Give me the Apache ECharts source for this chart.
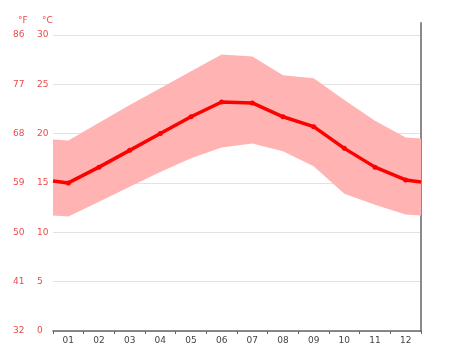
<!DOCTYPE html>
<html>
<head>
<meta charset="utf-8">
<script src="https://cdn.jsdelivr.net/npm/echarts@6/dist/echarts.min.js"></script>
<style>
html,body{margin:0;padding:0;background:#fff;}
#chart{width:474px;height:355px;}
</style>
</head>
<body>
<div id="chart"></div>
<script>
// Month labels
const months = ['01','02','03','04','05','06','07','08','09','10','11','12'];
// Average temperature (°C)
const tMean = [15.0, 16.6, 18.3, 20.0, 21.7, 23.2, 23.1, 21.7, 20.7, 18.5, 16.6, 15.3];
// Minimum temperature (°C)
const tMin = [11.6, 13.1, 14.6, 16.1, 17.5, 18.6, 19.0, 18.2, 16.7, 13.9, 12.8, 11.8];
// Maximum temperature (°C)
const tMax = [19.3, 21.1, 22.9, 24.6, 26.3, 28.0, 27.8, 25.9, 25.6, 23.4, 21.3, 19.6];
// Values at the left / right plot edges
const edgeMean = [15.2, 15.1];
const edgeMin = [11.7, 11.7];
const edgeMax = [19.4, 19.5];
// Tick values (°C)
const yMin = 0, yMax = 31.2, yStep = 5;

function withEdges(vals, edges) {
  const out = [[0, edges[0]]];
  vals.forEach((v, i) => out.push([i + 0.5, v]));
  out.push([months.length, edges[1]]);
  return out;
}
const lowData = withEdges(tMin, edgeMin);
const highData = withEdges(tMax, edgeMax);
const meanPairs = withEdges(tMean, edgeMean);
const meanData = meanPairs.map((p, i) => {
  const isEdge = i === 0 || i === meanPairs.length - 1;
  return isEdge ? { value: p, symbol: 'none' } : { value: p };
});

const labelColor = '#ea4a4a';
const font = 'DejaVu Sans';
const chart = echarts.init(document.getElementById('chart'), null, { renderer: 'canvas' });
chart.setOption({
  animation: false,
  backgroundColor: '#fff',
  title: [
    { text: '°F', left: 13, top: 11, textStyle: { fontSize: 9, fontWeight: 'normal', color: labelColor, fontFamily: font } },
    { text: '°C', left: 37, top: 11, textStyle: { fontSize: 9, fontWeight: 'normal', color: labelColor, fontFamily: font } }
  ],
  grid: { left: 53, right: 53, top: 23, bottom: 24, containLabel: false },
  xAxis: [
    {
      type: 'value', min: 0, max: months.length, interval: 1,
      axisLine: { show: true, lineStyle: { color: '#666', width: 1.5 } },
      axisTick: { show: true, length: 3, lineStyle: { color: '#666' } },
      axisLabel: { show: false },
      splitLine: { show: false }
    },
    {
      type: 'category', data: months, position: 'bottom', boundaryGap: true,
      axisLine: { show: false }, axisTick: { show: false },
      axisLabel: { color: '#444', fontSize: 9, margin: 5, fontFamily: font },
      splitLine: { show: false }
    }
  ],
  yAxis: [
    {
      type: 'value', min: yMin, max: yMax, interval: yStep, position: 'left',
      axisLine: { show: false }, axisTick: { show: false },
      axisLabel: {
        align: 'left', margin: 16, color: labelColor, fontSize: 9, fontFamily: font, showMaxLabel: false,
        formatter: v => (Math.abs(v % yStep) < 1e-6 ? String(v) : '')
      },
      splitLine: { show: true, showMaxLine: false, lineStyle: { color: '#e2e2e2', width: 1 } }
    },
    {
      type: 'value', min: yMin, max: yMax, interval: yStep, position: 'left',
      axisLine: { show: false }, axisTick: { show: false },
      axisLabel: {
        align: 'left', margin: 40, color: labelColor, fontSize: 9, fontFamily: font, showMaxLabel: false,
        formatter: v => (Math.abs(v % yStep) < 1e-6 ? String(Math.round(v * 9 / 5 + 32)) : '')
      },
      splitLine: { show: false }
    },
    {
      type: 'value', min: yMin, max: yMax, position: 'right',
      axisLine: { show: true, lineStyle: { color: '#8a8a8a', width: 2 } },
      axisTick: { show: false }, axisLabel: { show: false }, splitLine: { show: false }
    }
  ],
  series: [
    {
      name: 'range', type: 'custom', xAxisIndex: 0, yAxisIndex: 0, silent: true, clip: true,
      data: [[0, 0]],
      renderItem: function (params, api) {
        const top = highData.map(p => api.coord(p));
        const bottom = lowData.slice().reverse().map(p => api.coord(p));
        return {
          type: 'polygon',
          shape: { points: top.concat(bottom) },
          style: { fill: '#ffb3b3', stroke: 'none' }
        };
      }
    },
    {
      name: 'mean', type: 'line', xAxisIndex: 0, yAxisIndex: 0,
      data: meanData, symbol: 'circle', symbolSize: 5, showSymbol: true,
      itemStyle: { color: '#ff0000' },
      lineStyle: { color: '#ff0000', width: 3.5 }
    }
  ]
});
</script>
</body>
</html>
